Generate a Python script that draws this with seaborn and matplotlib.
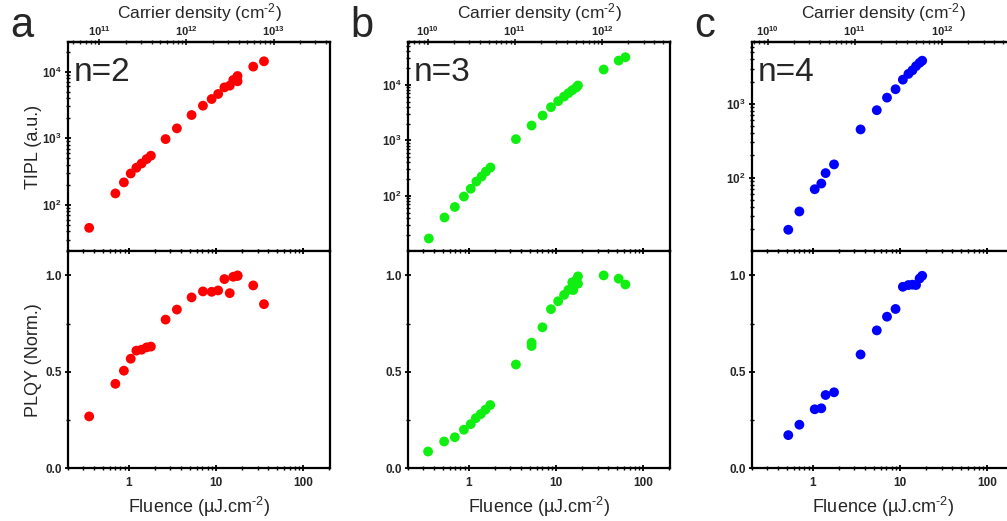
import numpy as np
import matplotlib
matplotlib.use("Agg")
import matplotlib.pyplot as plt
import seaborn as sns
from matplotlib.ticker import LogLocator, NullFormatter, MultipleLocator

# ---------------- data ----------------
# n = 2
fluence_n2 = [0.35, 0.70, 0.877, 1.05, 1.22, 1.40, 1.60, 1.79, 2.64, 3.56, 5.25, 7.09,
              8.92, 10.6, 12.5, 14.4, 15.8, 17.7, 17.7, 26.8, 35.6]
tipl_n2 = [45, 148, 217, 295, 360, 417, 486, 546, 970, 1405, 2230, 3080,
           3880, 4620, 5800, 6160, 7500, 7160, 8600, 11900, 14300]
plqy_n2 = [0.269, 0.438, 0.506, 0.568, 0.610, 0.615, 0.627, 0.631, 0.771, 0.823, 0.886, 0.917,
           0.915, 0.922, 0.981, 0.908, 0.993, 1.0, 0.997, 0.948, 0.851]

# n = 3
fluence_n3_tipl = [0.347, 0.525, 0.69, 0.877, 1.05, 1.22, 1.40, 1.57, 1.77, 3.47, 5.25, 7.03,
                   8.77, 10.6, 12.4, 13.9, 15.4, 17.1, 17.9, 35.3, 52.5, 62.7]
tipl_n3 = [17, 40.7, 63, 97, 134, 181, 223, 274, 324, 1050, 1850, 2800,
           3960, 5080, 6160, 7080, 8020, 8960, 9730, 18900, 27400, 31500]
fluence_n3_plqy = [0.34, 0.52, 0.69, 0.877, 1.05, 1.20, 1.37, 1.55, 1.76, 3.47, 5.25, 5.25,
                   7.0, 8.77, 10.6, 12.4, 13.9, 15.4, 15.8, 17.1, 17.9, 17.9, 35.3, 52.5, 62.7]
plqy_n3 = [0.087, 0.139, 0.161, 0.20, 0.229, 0.26, 0.281, 0.304, 0.328, 0.538, 0.651, 0.634,
           0.731, 0.825, 0.866, 0.899, 0.925, 0.964, 0.924, 0.976, 0.957, 0.995, 1.0, 0.983, 0.953]

# n = 4
fluence_n4 = [0.522, 0.70, 1.05, 1.25, 1.40, 1.75, 3.53, 5.42, 7.1, 8.9, 10.8, 12.5,
              13.9, 15.3, 16.8, 18.0]
tipl_n4 = [19.6, 34.7, 69.5, 83, 115, 151, 450, 821, 1215, 1580, 2130, 2550,
           2850, 3250, 3600, 3850]
plqy_n4 = [0.172, 0.226, 0.306, 0.311, 0.380, 0.394, 0.590, 0.715, 0.786, 0.826, 0.941, 0.95,
           0.952, 0.95, 0.984, 0.998]

panel_letters = ["a", "b", "c"]
panel_titles = ["n=2", "n=3", "n=4"]
colors = ["#ff0000", "#11ee11", "#0000ff"]
# carrier density (cm^-2) per unit fluence (uJ cm^-2)
carrier_per_fluence = [2.18e11, 2.96e10, 3.29e10]
carrier_ticks = [[1e11, 1e12, 1e13], [1e10, 1e11, 1e12], [1e10, 1e11, 1e12]]
carrier_ticklabels = [[r"$\mathbf{10^{11}}$", r"$\mathbf{10^{12}}$", r"$\mathbf{10^{13}}$"],
                      [r"$\mathbf{10^{10}}$", r"$\mathbf{10^{11}}$", r"$\mathbf{10^{12}}$"],
                      [r"$\mathbf{10^{10}}$", r"$\mathbf{10^{11}}$", r"$\mathbf{10^{12}}$"]]
tipl_ticks = [[1e2, 1e3, 1e4], [1e2, 1e3, 1e4], [1e2, 1e3]]
tipl_ticklabels = [[r"$\mathbf{10^{2}}$", r"$\mathbf{10^{3}}$", r"$\mathbf{10^{4}}$"],
                   [r"$\mathbf{10^{2}}$", r"$\mathbf{10^{3}}$", r"$\mathbf{10^{4}}$"],
                   [r"$\mathbf{10^{2}}$", r"$\mathbf{10^{3}}$"]]
tipl_ylims = [(20, 27400), (10, 58000), (10, 6800)]
fluence_ticks = [1, 10, 100]
fluence_ticklabels = ["1", "10", "100"]
plqy_ticks = [0.0, 0.5, 1.0]
plqy_ticklabels = ["0.0", "0.5", "1.0"]

tipl_x = [fluence_n2, fluence_n3_tipl, fluence_n4]
tipl_y = [tipl_n2, tipl_n3, tipl_n4]
plqy_x = [fluence_n2, fluence_n3_plqy, fluence_n4]
plqy_y = [plqy_n2, plqy_n3, plqy_n4]

# ---------------- style ----------------
sns.set_theme(style="white")
plt.rcParams["font.family"] = ["Liberation Sans", "DejaVu Sans"]
plt.rcParams["mathtext.fontset"] = "custom"
plt.rcParams["mathtext.rm"] = "Liberation Sans"
plt.rcParams["mathtext.it"] = "Liberation Sans:italic"
plt.rcParams["mathtext.bf"] = "Liberation Sans:bold"
plt.rcParams["axes.edgecolor"] = "black"

W, H = 1007, 521
fig = plt.figure(figsize=(W / 100, H / 100), dpi=100)

lefts_px = [68, 408, 752]
width_px = 262
top_px, mid_px, bot_px = 42.5, 251.3, 468.3
xlim = (0.2, 204)
ylabel_x = (42 - 68) / width_px

def style_axis(ax):
    for s in ax.spines.values():
        s.set_visible(True)
        s.set_linewidth(1.6)
        s.set_color("black")
    ax.tick_params(which="major", direction="inout", length=5, width=1.3, color="black",
                   labelsize=8.5, pad=2)
    ax.tick_params(which="minor", direction="inout", length=3, width=1.0, color="black")
    ax.grid(False)

for i in range(3):
    l = lefts_px[i] / W
    w = width_px / W
    ax_t = fig.add_axes([l, 1 - mid_px / H, w, (mid_px - top_px) / H])
    ax_b = fig.add_axes([l, 1 - bot_px / H, w, (bot_px - mid_px) / H])

    sns.scatterplot(x=tipl_x[i], y=tipl_y[i], ax=ax_t, color=colors[i], s=50,
                    linewidth=0, edgecolor="none")
    sns.scatterplot(x=plqy_x[i], y=plqy_y[i], ax=ax_b, color=colors[i], s=50,
                    linewidth=0, edgecolor="none")

    # top panel
    ax_t.set_xscale("log")
    ax_t.set_yscale("log")
    ax_t.set_xlim(*xlim)
    ax_t.set_ylim(*tipl_ylims[i])
    style_axis(ax_t)
    ax_t.set_yticks(tipl_ticks[i], tipl_ticklabels[i])
    ax_t.yaxis.set_minor_locator(LogLocator(base=10, subs=np.arange(2, 10)))
    ax_t.yaxis.set_minor_formatter(NullFormatter())
    ax_t.set_xticks(fluence_ticks)
    ax_t.xaxis.set_minor_locator(LogLocator(base=10, subs=np.arange(2, 10)))
    ax_t.tick_params(axis="x", which="both", bottom=True, top=False, labelbottom=False)
    ax_t.tick_params(axis="y", which="both", left=True, right=False)
    ax_t.set_xlabel("")
    ax_t.set_ylabel("")

    k = carrier_per_fluence[i]
    sec = ax_t.secondary_xaxis("top", functions=(lambda f, k=k: f * k, lambda c, k=k: c / k))
    sec.set_xticks(carrier_ticks[i], carrier_ticklabels[i])
    sec.xaxis.set_minor_locator(LogLocator(base=10, subs=np.arange(2, 10)))
    sec.xaxis.set_minor_formatter(NullFormatter())
    sec.spines["top"].set_linewidth(1.6)
    sec.tick_params(which="major", direction="inout", length=5, width=1.3, labelsize=8, pad=0.5)
    sec.tick_params(which="minor", direction="inout", length=3, width=1.0)
    sec.set_xlabel(r"Carrier density (cm$^{\text{-}2}$)", fontsize=12.5, labelpad=4.5)

    ax_t.text(0.02, 0.818, panel_titles[i], transform=ax_t.transAxes, fontsize=24,
              ha="left", va="baseline")

    # bottom panel
    ax_b.set_xscale("log")
    ax_b.set_xlim(*xlim)
    ax_b.set_ylim(0, 1.125)
    style_axis(ax_b)
    ax_b.set_xticks(fluence_ticks, fluence_ticklabels)
    ax_b.xaxis.set_minor_locator(LogLocator(base=10, subs=np.arange(2, 10)))
    ax_b.xaxis.set_minor_formatter(NullFormatter())
    for lab in ax_b.get_xticklabels():
        lab.set_fontweight("bold")
    ax_b.set_yticks(plqy_ticks, plqy_ticklabels)
    for lab in ax_b.get_yticklabels():
        lab.set_fontweight("bold")
    ax_b.yaxis.set_minor_locator(MultipleLocator(0.25))
    ax_b.tick_params(axis="x", which="both", bottom=True, top=True)
    ax_b.tick_params(axis="y", which="both", left=True, right=False)
    ax_b.tick_params(axis="x", which="major", pad=4)
    ax_b.set_xlabel(r"Fluence (µJ.cm$^{\text{-}2}$)", fontsize=13, labelpad=4)
    ax_b.set_ylabel("")

    if i == 0:
        ax_t.set_ylabel("TIPL (a.u.)", fontsize=13)
        ax_t.yaxis.set_label_coords(ylabel_x, 0.5)
        ax_b.set_ylabel("PLQY (Norm.)", fontsize=13)
        ax_b.yaxis.set_label_coords(ylabel_x, 0.5)

    fig.text((lefts_px[i] - 58) / W, 1 - 37 / H, panel_letters[i], fontsize=30,
             ha="left", va="baseline")

fig.savefig("out.png", dpi=100)
